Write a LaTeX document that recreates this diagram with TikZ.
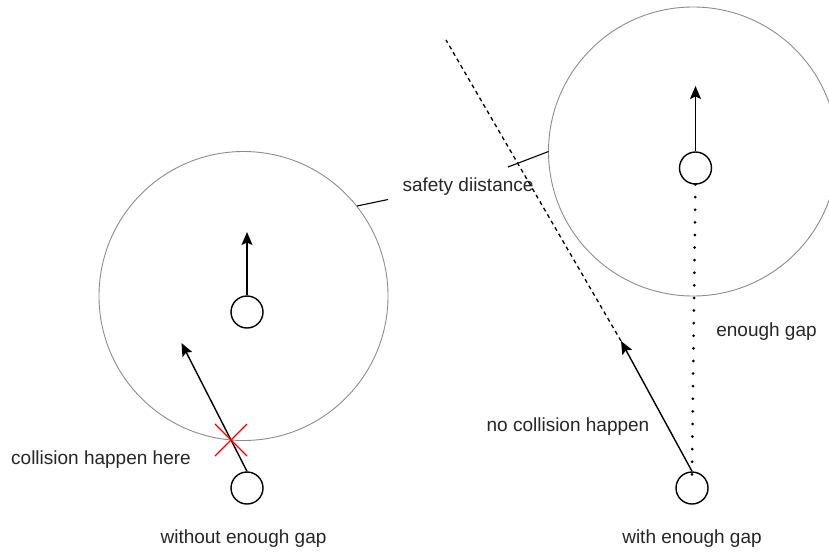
\documentclass[tikz,border=0pt]{standalone}
\usepackage{fontspec}
\setmainfont{Liberation Sans}
\usetikzlibrary{arrows.meta,calc}
\begin{document}
\begin{tikzpicture}[x=1pt,y=-1pt,
  bigcirc/.style={circle,draw=black!45,line width=0.9pt,minimum size=289pt,inner sep=0pt},
  bot/.style={circle,draw=black,line width=1.4pt,minimum size=32pt,inner sep=0pt},
  move/.style={draw=black,line width=1.4pt,-{Stealth[length=13pt,width=11pt,inset=2.5pt]}},
  lbl/.style={anchor=base,text=black!85,font=\fontsize{19}{22}\selectfont,inner sep=0pt},
  leader/.style={draw=black,line width=1.1pt}]
\useasboundingbox (0,0) rectangle (829,552);
\clip (0,0) rectangle (829,552);
% left scene
\node[bigcirc] (B1) at (243.5,296) {};
\node[bot] (s1) at (247,312) {};
\coordinate (s1tip) at (247,232);
\draw[move] (s1.north) -- (s1tip);
\node[bot] (b1) at (247,488) {};
\coordinate (b1tip) at (181.5,343);
\draw[move] (b1.north) -- (b1tip);
\coordinate (X) at (231,440);
\draw[red,line width=1.2pt] ($(X)+(-16,-16)$) -- ($(X)+(16,16)$) ($(X)+(16,-16)$) -- ($(X)+(-16,16)$);
% right scene
\node[bigcirc] (B2) at (693,151.5) {};
\node[bot] (s2) at (695.5,168) {};
\coordinate (s2tip) at (695.5,86);
\draw[move] (s2.north) -- (s2tip);
\node[bot] (b2) at (692,488) {};
\coordinate (b2tip) at (621,341);
\draw[move] (b2.north) -- (b2tip);
\coordinate (dtop) at (446,40);
\draw[black,line width=1.3pt,dash pattern=on 4pt off 3.5pt] (b2tip) -- (dtop);
\draw[black,line width=3pt,line cap=round,dash pattern=on 0pt off 12.6pt] ([yshift=-3pt]b2.north) -- ([yshift=5pt]s2.south);
% leaders
\coordinate (l1a) at (357,206);
\coordinate (l1b) at (388,199.5);
\draw[leader] (l1a) -- (l1b);
\coordinate (l2a) at (508,167);
\coordinate (l2b) at (548.5,151.5);
\draw[leader] (l2a) -- (l2b);
% labels
\node[lbl] (tsafe) at (468,191.5) {safety diistance};
\node[lbl] (tcoll) at (101,464.5) {collision happen here};
\node[lbl] (two) at (243.5,543) {without enough gap};
\node[lbl] (tw) at (692,543) {with enough gap};
\node[lbl] (tno) at (568,431.5) {no collision happen};
\node[lbl] (teg) at (766.5,336) {enough gap};
\end{tikzpicture}
\end{document}
